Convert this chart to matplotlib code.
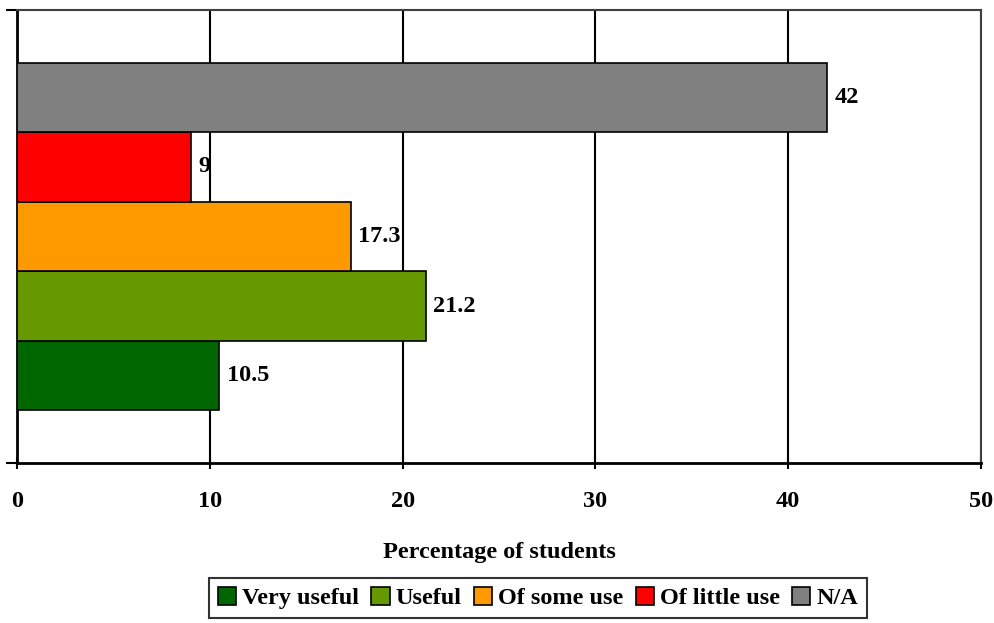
import matplotlib
matplotlib.use("Agg")
import matplotlib.pyplot as plt
import numpy as np

categories = ["Very useful", "Useful", "Of some use", "Of little use", "N/A"]
values = [10.5, 21.2, 17.3, 9, 42]
value_labels = ["10.5", "21.2", "17.3", "9", "42"]
colors = ["#006600", "#669900", "#FF9900", "#FF0000", "#808080"]
xticks = [0, 10, 20, 30, 40, 50]

plt.rcParams['font.family'] = ['Liberation Serif', 'DejaVu Serif']
plt.rcParams['font.weight'] = 'bold'
FS = 17.5

fig = plt.figure(figsize=(9.94, 6.23), dpi=100)
ax = fig.add_axes([17/994, 1 - 463/623, (981-17)/994, (463-10)/623])

n = len(values)
group = 0.768
bh = group / n
for i, (v, c, lab, lbl) in enumerate(zip(values, colors, categories, value_labels)):
    y = -group/2 + bh*(i + 0.5)
    ax.barh(y, v, height=bh, color=c, edgecolor='black', linewidth=1.2, label=lab, zorder=3)
    ax.text(v + 0.4, y, lbl, va='center', ha='left', fontsize=FS, fontweight='bold', zorder=4)

ax.set_xlim(0, 50)
ax.set_ylim(-0.5, 0.5)
ax.set_xticks(xticks)
ax.set_xticklabels([str(t) for t in xticks], fontsize=FS, fontweight='bold')
ax.set_yticks([-0.5, 0.5])
ax.set_yticklabels([])
ax.tick_params(axis='y', length=8, width=1.5, direction='out')
ax.tick_params(axis='x', length=8, width=1.5, direction='inout', pad=16)
ax.xaxis.grid(True, color='black', linewidth=1.5, zorder=0)
ax.set_axisbelow(True)
for s in ['left', 'bottom']:
    ax.spines[s].set_linewidth(2)
    ax.spines[s].set_color('black')
for s in ['top', 'right']:
    ax.spines[s].set_linewidth(1.5)
    ax.spines[s].set_color('#404040')
ax.set_xlabel("Percentage of students", fontsize=FS, fontweight='bold', labelpad=22)

leg = fig.legend(loc='center', bbox_to_anchor=(538/994, 1 - 598/623), ncol=5,
                 frameon=True, fancybox=False, edgecolor='black',
                 handlelength=0.75, handleheight=0.75, handletextpad=0.25,
                 columnspacing=0.5, borderpad=0.35, prop={'weight': 'bold', 'size': FS})
leg.get_frame().set_linewidth(1.5)

fig.savefig("out.png", dpi=100)
